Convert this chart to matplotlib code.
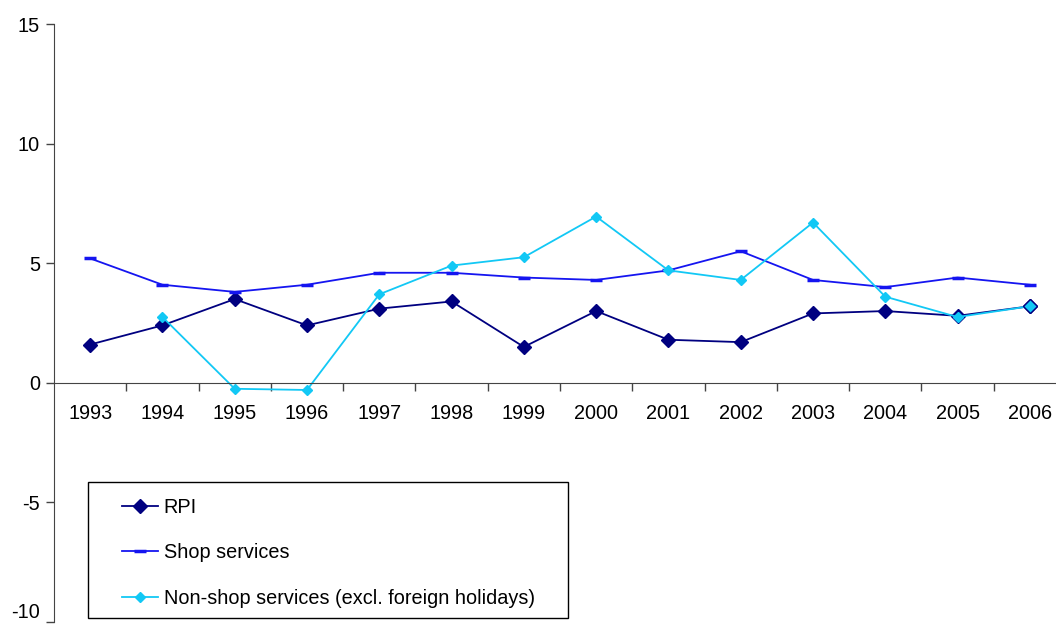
import matplotlib.pyplot as plt
from matplotlib.patches import Rectangle

plt.rcParams['font.family'] = ['Liberation Sans', 'DejaVu Sans']
plt.rcParams['axes.unicode_minus'] = False

years = ['1993', '1994', '1995', '1996', '1997', '1998', '1999',
         '2000', '2001', '2002', '2003', '2004', '2005', '2006']
rpi = [1.6, 2.4, 3.5, 2.4, 3.1, 3.4, 1.5, 3.0, 1.8, 1.7, 2.9, 3.0, 2.8, 3.2]
shop = [5.2, 4.1, 3.8, 4.1, 4.6, 4.6, 4.4, 4.3, 4.7, 5.5, 4.3, 4.0, 4.4, 4.1]
# no 1993 figure for non-shop services
non_shop = [None, 2.75, -0.25, -0.3, 3.7, 4.9, 5.25, 6.95, 4.7, 4.3, 6.7, 3.6, 2.75, 3.2]

W, H = 1056, 628
fs = 14.3
fig = plt.figure(figsize=(W / 100, H / 100), dpi=100)
ax = fig.add_axes([54 / W, 6 / H, 1012 / W, 598 / H])

x = list(range(len(years)))
ns_x = [i for i, v in zip(x, non_shop) if v is not None]
ns_y = [v for v in non_shop if v is not None]

ax.plot(x, rpi, color='#000080', lw=1.3, marker='D', ms=7.5, label='RPI')
ax.plot(x, shop, color='#1515f0', lw=1.3, marker='_', ms=9, mew=2.5, label='Shop services')
ax.plot(ns_x, ns_y, color='#12c8f5', lw=1.3, marker='D', ms=5.5,
        label='Non-shop services (excl. foreign holidays)')
# last point drawn with an outlined marker
ax.plot(ns_x[-1], ns_y[-1], marker='D', ms=7.5, color='#12c8f5', mec='#000080', mew=1.0, ls='none')

ax.set_xlim(-0.5, len(years) - 0.5)
ax.set_ylim(-10, 15)
ax.set_yticks([-10, -5, 0, 5, 10, 15])
ax.set_xticks([i + 0.5 for i in x])
ax.set_xticklabels([])
ax.tick_params(axis='y', direction='out', length=6, labelsize=fs, width=1, color='#444444', pad=4)
ax.tick_params(axis='x', direction='out', length=6, width=1, color='#444444')
for i, yr in zip(x, years):
    ax.text(i, -1.3, yr, ha='center', va='center', fontsize=fs)
# keep the bottom label inside the figure
ax.get_yticklabels()[0].set_va('bottom')

ax.spines['top'].set_visible(False)
ax.spines['right'].set_visible(False)
ax.spines['bottom'].set_position(('data', 0))
ax.spines['bottom'].set_color('#444444')
ax.spines['left'].set_color('#444444')

fig.patches.append(Rectangle((88 / W, 1 - 618 / H), 480 / W, 136 / H, transform=fig.transFigure,
                             fill=False, edgecolor='black', lw=1.0))
fig.legend(loc='upper left', bbox_to_anchor=(122 / W, 1 - 498 / H), frameon=False,
           fontsize=fs, handlelength=1.8, handletextpad=0.3, labelspacing=1.33, borderaxespad=0,
           borderpad=0)

fig.savefig('out.png', dpi=100)
